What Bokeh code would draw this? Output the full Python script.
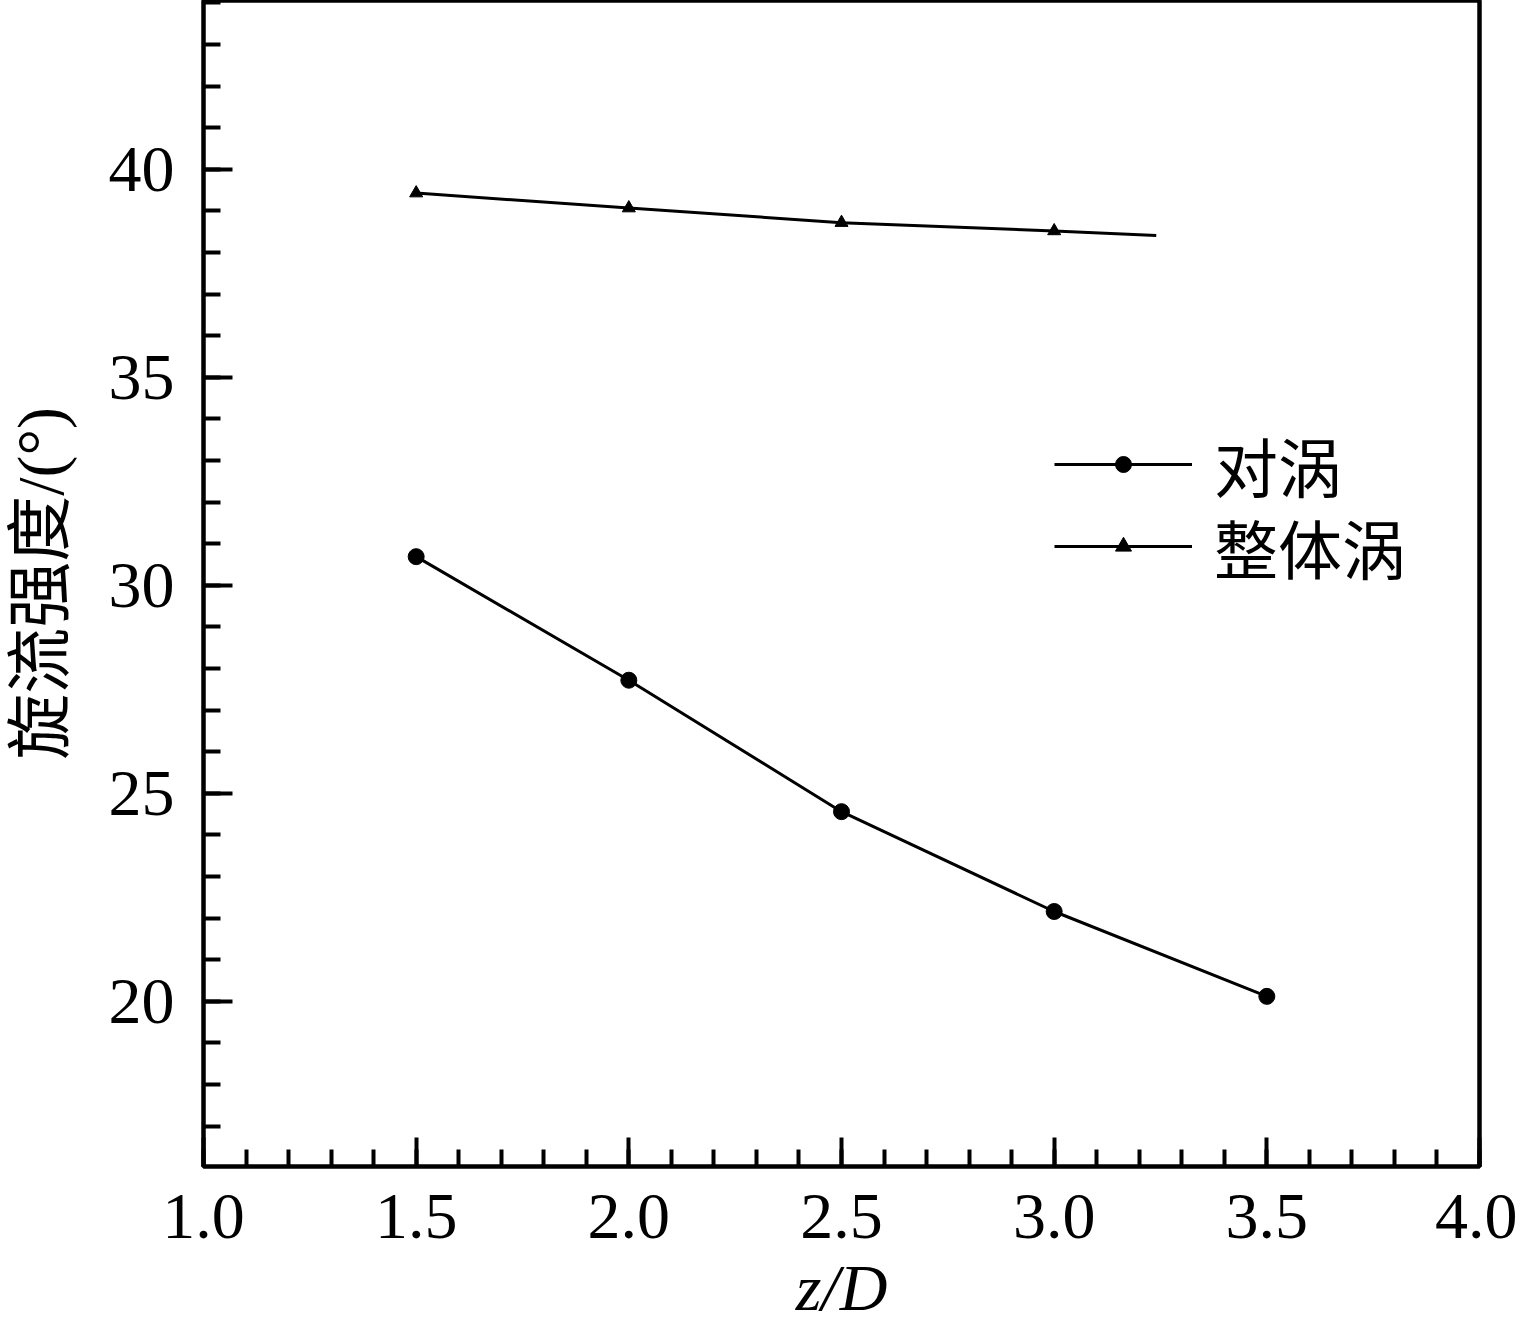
import numpy as np
from bokeh.plotting import figure
from bokeh.models import Range1d, FixedTicker, Legend, LegendItem
from bokeh.embed import file_html
from bokeh.resources import INLINE

# ---------------- data ----------------
z_pair = [1.5, 2.0, 2.5, 3.0, 3.5]
swirl_pair = [30.69, 27.72, 24.56, 22.16, 20.12]

z_whole = [1.5, 2.0, 2.5, 3.0, 3.24]
swirl_whole = [39.43, 39.07, 38.72, 38.52, 38.41]
n_whole_markers = 4  # last line point carries no marker

series_names = ["对涡", "整体涡"]

x_ticks = [1.0, 1.5, 2.0, 2.5, 3.0, 3.5, 4.0]
x_tick_labels = ["1.0", "1.5", "2.0", "2.5", "3.0", "3.5", "4.0"]
x_minor_ticks = [round(1.0 + 0.1 * i, 1) for i in range(31)]

y_ticks = [20, 25, 30, 35, 40]
y_tick_labels = ["20", "25", "30", "35", "40"]
y_minor_ticks = list(range(16, 45))

x_label = "z/D"
y_label = "旋流强度/(°)"

# ---------------- styling ----------------
FONT = "Liberation Serif, Noto Sans CJK SC"
FS = "66px"

p = figure(width=1517, height=1326, output_backend="svg", toolbar_location=None,
           x_range=Range1d(1.0, 4.0), y_range=Range1d(16.03, 44.06),
           min_border_left=203, min_border_right=38, min_border_top=0,
           min_border_bottom=160)
p.xgrid.visible = False
p.ygrid.visible = False
p.background_fill_color = "white"
p.border_fill_color = "white"
p.outline_line_color = "black"
p.outline_line_width = 4.5
p.outline_line_alpha = 1.0

p.xaxis.ticker = FixedTicker(ticks=x_ticks, minor_ticks=x_minor_ticks)
p.yaxis.ticker = FixedTicker(ticks=y_ticks, minor_ticks=y_minor_ticks)
p.xaxis.major_label_overrides = {t: l for t, l in zip(x_ticks, x_tick_labels)}
p.yaxis.major_label_overrides = {t: l for t, l in zip(y_ticks, y_tick_labels)}

for ax in (p.xaxis[0], p.yaxis[0]):
    ax.axis_line_color = None
    ax.major_tick_in = 29
    ax.major_tick_out = 0
    ax.minor_tick_in = 17
    ax.minor_tick_out = 0
    ax.major_tick_line_width = 4
    ax.minor_tick_line_width = 4
    ax.major_tick_line_color = "black"
    ax.minor_tick_line_color = "black"
    ax.major_label_text_font = "Liberation Serif"
    ax.major_label_text_font_size = FS
    ax.major_label_text_color = "black"
    ax.axis_label_text_font_size = FS
    ax.axis_label_text_color = "black"
    ax.axis_label_text_font_style = "normal"

p.xaxis.major_label_standoff = 28
p.yaxis.major_label_standoff = 29

p.xaxis.axis_label = x_label
p.xaxis.axis_label_text_font = "Liberation Serif"
p.xaxis.axis_label_text_font_style = "italic"
p.xaxis.axis_label_standoff = 10

p.yaxis.axis_label = y_label
p.yaxis.axis_label_text_font = FONT
p.yaxis.axis_label_standoff = 29

# ---------------- series ----------------
l1 = p.line(z_pair, swirl_pair, line_color="black", line_width=3)
m1 = p.scatter(z_pair, swirl_pair, marker="circle", size=16,
               fill_color="black", line_color="black")
l2 = p.line(z_whole, swirl_whole, line_color="black", line_width=3)
m2 = p.scatter(z_whole[:n_whole_markers], swirl_whole[:n_whole_markers],
               marker="triangle", size=13, fill_color="black", line_color="black")

# one legend per entry so that the row spacing can follow the reference
legend_specs = [(series_names[0], [l1, m1], 656), (series_names[1], [l2, m2], 574)]
for name, rends, vy in legend_specs:
    lg = Legend(items=[LegendItem(label=name, renderers=rends)], location=(851, vy))
    lg.border_line_color = None
    lg.background_fill_alpha = 0
    lg.padding = 0
    lg.margin = 0
    lg.spacing = 0
    lg.glyph_width = 138
    lg.glyph_height = 40
    lg.label_standoff = 22
    lg.label_height = 60
    lg.label_text_font = FONT
    lg.label_text_font_size = "64px"
    lg.label_text_color = "black"
    p.add_layout(lg, "center")

open("out.html", "w", encoding="utf-8").write(file_html(p, INLINE))
